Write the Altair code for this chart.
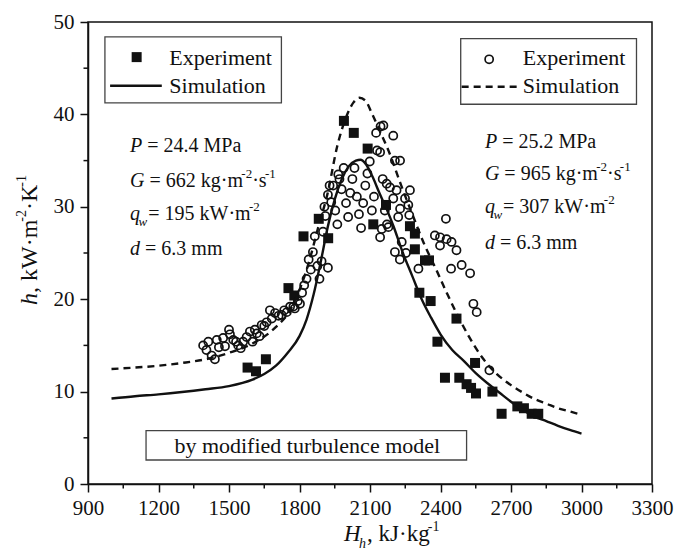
import altair as alt
import pandas as pd

FONT = "Liberation Serif"
INK = "#111111"

# ---------------- data ----------------
sim1_H = [1000, 1100, 1200, 1300, 1400, 1500, 1600, 1650, 1700, 1750, 1800, 1830, 1860, 1890, 1920,
          1950, 1980, 2010, 2040, 2060, 2080, 2110, 2140, 2170, 2200, 2240, 2280, 2320, 2360, 2400,
          2450, 2500, 2550, 2600, 2650, 2700, 2750, 2800, 2850, 2900, 2950, 3000]
sim1_h = [9.25, 9.5, 9.7, 9.95, 10.25, 10.6, 11.3, 11.9, 12.8, 14.2, 16.0, 17.8, 20.5, 24.0, 27.8,
          30.8, 33.0, 34.4, 35.0, 35.1, 34.7, 33.3, 31.5, 29.8, 27.9, 25.0, 22.5, 20.0, 18.0, 16.2,
          14.5, 13.3, 12.0, 10.9, 9.9, 8.9, 8.0, 7.3, 6.8, 6.3, 5.85, 5.45]

sim2_H = [1000, 1100, 1200, 1300, 1400, 1500, 1600, 1700, 1760, 1800, 1840, 1880, 1920, 1960, 2000,
          2030, 2055, 2080, 2110, 2140, 2180, 2230, 2280, 2330, 2380, 2430, 2470, 2520, 2580, 2640,
          2700, 2750, 2800, 2850, 2900, 2950, 3000]
sim2_h = [12.45, 12.6, 12.8, 13.1, 13.5, 14.2, 15.2, 17.0, 18.8, 21.0, 24.0, 27.8, 31.5, 36.5, 39.8,
          41.3, 41.8, 41.5, 40.0, 38.3, 36.0, 32.5, 29.2, 26.0, 23.3, 20.5, 18.4, 16.0, 13.6, 11.9,
          10.7, 9.9, 9.2, 8.7, 8.2, 7.85, 7.5]

exp1_H = [1579, 1615, 1657, 1753, 1778, 1817, 1882, 1922, 1989, 2031, 2090, 2114, 2168, 2270, 2291,
          2291, 2334, 2351, 2310, 2358, 2387, 2419, 2468, 2480, 2511, 2530, 2551, 2547, 2621, 2660,
          2727, 2755, 2788, 2816]
exp1_h = [12.6, 12.2, 13.5, 21.2, 20.4, 26.8, 28.7, 26.6, 39.3, 38.0, 36.3, 28.1, 30.2, 27.9, 27.1,
          25.4, 24.2, 24.2, 20.7, 19.8, 15.4, 11.5, 17.9, 11.5, 10.8, 10.4, 9.8, 13.1, 10.0, 7.6,
          8.4, 8.2, 7.6, 7.6]

exp2_H = [1390, 1404, 1412, 1426, 1440, 1448, 1457, 1475, 1483, 1500, 1504, 1518, 1530, 1539, 1550,
          1560, 1575, 1589, 1600, 1610, 1618, 1630, 1639, 1650, 1660, 1674, 1682, 1696, 1711, 1724,
          1735, 1746, 1760, 1774, 1780, 1793, 1802, 1811, 1820, 1830, 1839, 1848, 1857, 1865, 1876,
          1885, 1894, 1900, 1906, 1910, 1921, 1921, 1928, 1935, 1943, 1952, 1961, 1965, 1970, 1979,
          1988, 1998, 2007, 2016, 2025, 2034, 2044, 2053, 2062, 2071, 2080, 2089, 2099, 2108, 2117,
          2126, 2130, 2145, 2154, 2163, 2172, 2157, 2199, 2143, 2206, 2228, 2185, 2171, 2213, 2270,
          2199, 2249, 2228, 2263, 2267, 2220, 2178, 2150, 2235, 2206, 2253, 2306, 2143, 2227, 2423,
          2376, 2398, 2426, 2447, 2468, 2398, 2445, 2490, 2526, 2540, 2554, 2608]
exp2_h = [15.0, 14.5, 15.4, 13.9, 13.5, 15.6, 14.8, 15.8, 14.9, 16.7, 16.2, 15.6, 15.4, 15.0, 14.7,
          15.4, 15.9, 16.5, 15.4, 16.7, 16.3, 16.0, 17.2, 17.1, 17.5, 18.8, 17.9, 18.5, 18.2, 18.3,
          18.8, 18.6, 19.2, 19.2, 19.0, 19.8, 19.5, 20.7, 21.5, 22.2, 24.3, 23.2, 25.1, 26.8, 23.6,
          22.2, 24.1, 27.3, 30.0, 29.0, 31.3, 23.4, 32.3, 30.5, 32.3, 29.6, 28.1, 33.5, 33.0, 31.9,
          34.2, 30.4, 28.9, 31.5, 33.0, 34.2, 31.1, 29.2, 27.7, 30.4, 32.3, 33.6, 34.9, 29.6, 31.1,
          38.0, 36.1, 38.7, 33.0, 29.6, 28.1, 38.8, 37.7, 35.9, 35.0, 35.0, 32.1, 32.5, 31.8, 31.8,
          30.9, 30.9, 29.8, 30.2, 29.1, 28.9, 27.8, 27.6, 26.2, 25.1, 25.0, 23.3, 26.7, 24.3, 28.7,
          26.9, 26.7, 26.5, 26.2, 25.3, 25.8, 23.3, 23.7, 22.8, 19.5, 18.6, 12.3]

x_ticks = [900, 1200, 1500, 1800, 2100, 2400, 2700, 3000, 3300]
y_ticks = [0, 10, 20, 30, 40, 50]
x_minor = [1050, 1350, 1650, 1950, 2250, 2550, 2850, 3150]
y_minor = [5, 15, 25, 35, 45]

legend_labels = ["Experiment", "Simulation"]
box_text = "by modified turbulence model"

left_lines = [
    [("P", "i"), (" = 24.4 MPa", "n")],
    [("G", "i"), (" = 662 kg·m", "n"), ("-2", "sup"), ("·s", "n"), ("-1", "sup")],
    [("q", "i"), ("w", "sub"), ("= 195 kW·m", "n"), ("-2", "sup")],
    [("d", "i"), (" = 6.3 mm", "n")],
]
right_lines = [
    [("P", "i"), (" = 25.2 MPa", "n")],
    [("G", "i"), (" = 965 kg·m", "n"), ("-2", "sup"), ("·s", "n"), ("-1", "sup")],
    [("q", "i"), ("w", "sub"), ("= 307 kW·m", "n"), ("-2", "sup")],
    [("d", "i"), (" = 6.3 mm", "n")],
]
x_title = [("H", "i"), ("h", "sub"), (", kJ·kg", "n"), ("-1", "sup")]
y_title = [("h", "i"), (", kW·m", "n"), ("-2", "sup"), ("·K", "n"), ("-1", "sup")]

# ---------------- helpers ----------------
W_REG = {' ': 250, '=': 564, '.': 250, ',': 250, '·': 250, '-': 333, 'M': 889, 'P': 556, 'a': 444,
         'k': 500, 'g': 500, 'm': 778, 's': 389, 'W': 944, 'K': 722, 'J': 389, 'b': 500, 'y': 500,
         'o': 500, 'd': 500, 'i': 278, 'f': 333, 'e': 444, 't': 278, 'u': 500, 'r': 333, 'l': 278,
         'n': 500, 'c': 444, 'E': 611, 'x': 500, 'p': 500, 'S': 556, 'h': 500, 'H': 722}
W_IT = {'P': 611, 'G': 722, 'q': 500, 'w': 667, 'd': 500, 'h': 500, 'H': 722}


def tw(s, size, italic=False):
    tbl = W_IT if italic else W_REG
    return sum(tbl.get(c, 500) for c in s) / 1000.0 * size


PW, PH = 564, 462
xs = alt.Scale(domain=[900, 3300], nice=False, zero=False)
ys = alt.Scale(domain=[0, 50], nice=False, zero=False)
AX = dict(format="d", title=None, grid=False, tickSize=8, tickWidth=1.5, domainWidth=1.5,
          labelFontSize=21, labelFont=FONT, labelColor=INK, labelFlush=False, labelOverlap=False,
          domainColor=INK, tickColor=INK)
X = alt.X("H:Q", scale=xs, axis=alt.Axis(values=x_ticks, labelPadding=5, **AX))
Y = alt.Y("h:Q", scale=ys, axis=alt.Axis(values=y_ticks, labelPadding=6, **AX))
X2 = alt.X2("H2:Q")
Y2 = alt.Y2("h2:Q")


def seg_style(kind, S, s2):
    if kind == "n":
        return S, "normal", 0.0, False
    if kind == "i":
        return S, "italic", 0.0, True
    if kind == "sup":
        return s2, "normal", -round(S * 0.45), False
    return s2, "italic", round(S * 0.3), True


def split_lead(text, size, it):
    stripped = text.lstrip(" ")
    lead = len(text) - len(stripped)
    return stripped, tw(" " * lead, size, it)


def annot(segs, H0, h0, S=20, s2=13):
    layers = []
    off = 0.0
    for text, kind in segs:
        size, style, dy, it = seg_style(kind, S, s2)
        if kind == "sub":
            off -= 1.5
        text, lead = split_lead(text, size, it)
        off += lead
        df = pd.DataFrame({"H": [H0], "h": [h0], "t": [text]})
        layers.append(alt.Chart(df).mark_text(align="left", baseline="alphabetic", dx=off, dy=dy,
                                              font=FONT, fontSize=size, fontStyle=style, color=INK)
                      .encode(x=X, y=Y, text="t:N"))
        off += tw(text, size, it)
        if kind == "sub":
            off += 1.0
    return layers


def pix_annot(segs, x0, y0, S=23, s2=14, rotate=False):
    layers = []
    off = 0.0
    for text, kind in segs:
        size, style, dy, it = seg_style(kind, S, s2)
        if kind == "sub":
            off -= 1.5
        text, lead = split_lead(text, size, it)
        off += lead
        if rotate:
            px, py, ang = x0 + dy, y0 - off, 270
        else:
            px, py, ang = x0 + off, y0 + dy, 0
        df = pd.DataFrame({"t": [text]})
        layers.append(alt.Chart(df).mark_text(align="left", baseline="alphabetic", angle=ang,
                                              font=FONT, fontSize=size, fontStyle=style, color=INK)
                      .encode(x=alt.value(px), y=alt.value(py), text="t:N"))
        off += tw(text, size, it)
        if kind == "sub":
            off += 1.0
    return layers


# ---------------- layers ----------------
boxes = pd.DataFrame({"H": [972, 2486, 1147], "H2": [1723, 3234, 2511],
                      "h": [41.25, 41.1, 2.6], "h2": [48.4, 48.2, 5.77]})
box_layer = alt.Chart(boxes).mark_rect(fill="white", stroke="#444444", strokeWidth=1.3).encode(
    x=X, x2=X2, y=Y, y2=Y2)

sim1 = pd.DataFrame({"H": sim1_H, "h": sim1_h})
sim2 = pd.DataFrame({"H": sim2_H, "h": sim2_h})
exp1 = pd.DataFrame({"H": exp1_H, "h": exp1_h})
exp2 = pd.DataFrame({"H": exp2_H, "h": exp2_h})

l_sim1 = alt.Chart(sim1).mark_line(color=INK, strokeWidth=2.4, interpolate="monotone").encode(x=X, y=Y)
l_sim2 = alt.Chart(sim2).mark_line(color=INK, strokeWidth=2.4, strokeDash=[7, 5],
                                   interpolate="monotone").encode(x=X, y=Y)
p_exp1 = alt.Chart(exp1).mark_point(shape="square", filled=True, size=100, color=INK, opacity=1).encode(x=X, y=Y)
p_exp2 = alt.Chart(exp2).mark_point(shape="circle", filled=False, size=66, strokeWidth=1.7,
                                    color=INK, opacity=1).encode(x=X, y=Y)

# legend glyphs (data space)
leg_sq = alt.Chart(pd.DataFrame({"H": [1107], "h": [46.2]})).mark_point(
    shape="square", filled=True, size=100, color=INK, opacity=1).encode(x=X, y=Y)
leg_ci = alt.Chart(pd.DataFrame({"H": [2607], "h": [45.96]})).mark_point(
    shape="circle", filled=False, size=66, strokeWidth=1.7, color=INK, opacity=1).encode(x=X, y=Y)
leg_l1 = alt.Chart(pd.DataFrame({"H": [994], "H2": [1214], "h": [43.1]})).mark_rule(
    color=INK, strokeWidth=2.4).encode(x=X, x2=X2, y=Y)
leg_l2 = alt.Chart(pd.DataFrame({"H": [2490], "H2": [2730], "h": [43.0]})).mark_rule(
    color=INK, strokeWidth=2.4, strokeDash=[7, 5]).encode(x=X, x2=X2, y=Y)
leg_txt = alt.Chart(pd.DataFrame({"H": [1246, 1246, 2750, 2750], "h": [45.35, 42.3, 45.35, 42.3],
                                  "t": legend_labels + legend_labels})).mark_text(
    align="left", baseline="alphabetic", font=FONT, fontSize=22, color=INK).encode(x=X, y=Y, text="t:N")
box_txt = alt.Chart(pd.DataFrame({"H": [1833], "h": [3.35], "t": [box_text]})).mark_text(
    align="center", baseline="alphabetic", font=FONT, fontSize=22, color=INK).encode(x=X, y=Y, text="t:N")

# minor ticks
minor_x = alt.Chart(pd.DataFrame({"H": x_minor})).mark_rule(color=INK, strokeWidth=1.5).encode(
    x=X, y=alt.value(PH), y2=alt.value(PH + 4.5))
minor_y = alt.Chart(pd.DataFrame({"h": y_minor})).mark_rule(color=INK, strokeWidth=1.5).encode(
    y=Y, x=alt.value(0), x2=alt.value(-4.5))

text_layers = []
for line, hh in zip(left_lines, [35.96, 32.17, 28.57, 24.78]):
    text_layers += annot(line, 1079, hh)
for line, hh in zip(right_lines, [36.36, 32.9, 29.3, 25.4]):
    text_layers += annot(line, 2589, hh)
text_layers += pix_annot(x_title, 256, 519)
text_layers += pix_annot(y_title, -51, 283, S=24, rotate=True)

chart = alt.layer(
    box_layer, minor_x, minor_y, p_exp1, p_exp2, l_sim1, l_sim2,
    leg_sq, leg_ci, leg_l1, leg_l2, leg_txt, box_txt, *text_layers
).properties(
    width=PW, height=PH,
    autosize=alt.AutoSizeParams(type="none"),
    padding={"left": 88, "top": 22, "right": 31, "bottom": 66},
    background="white",
).configure_view(stroke=INK, strokeWidth=1.5)

chart.save("out.html", embed_options={"renderer": "svg", "actions": False})
